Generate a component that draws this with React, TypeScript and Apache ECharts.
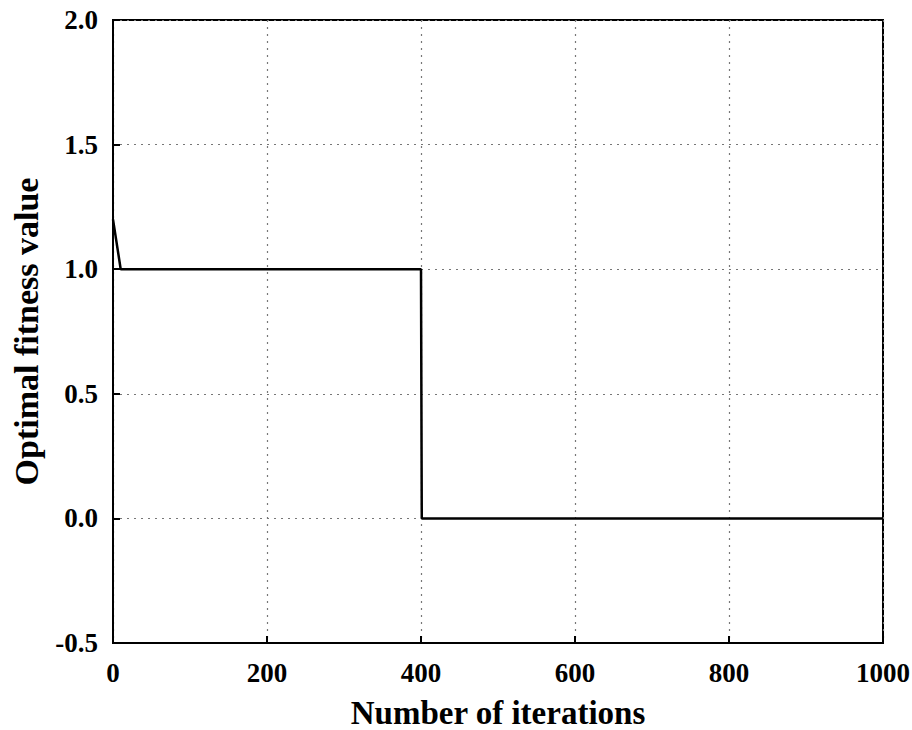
import React, { useEffect, useRef } from "react";
import * as echarts from "echarts";

const iterations = [0, 10, 400, 401, 1000];
const fitness = [1.2, 1.0, 1.0, 0.0, 0.0];
const xName = "Number of iterations";
const yName = "Optimal fitness value";

export default function App() {
  const ref = useRef<HTMLDivElement>(null);
  useEffect(() => {
    const chart = echarts.init(ref.current!, null, { renderer: "svg" });
    const font = "'Liberation Serif', 'Times New Roman', serif";
    chart.setOption({
      animation: false,
      backgroundColor: "#fff",
      grid: {
        left: 113,
        top: 20,
        right: 29,
        bottom: 87,
        show: true,
        borderColor: "#000",
        borderWidth: 2,
        containLabel: false,
        outerBoundsMode: "none",
      },
      xAxis: {
        type: "value",
        min: 0,
        max: 1000,
        interval: 200,
        name: xName,
        nameLocation: "middle",
        nameGap: 54,
        nameTextStyle: { fontFamily: font, fontWeight: "bold", fontSize: 33, lineHeight: 32, color: "#000" },
        axisLine: { show: true, onZero: false, lineStyle: { color: "#000", width: 2 } },
        axisTick: { show: true, inside: true, length: 7, lineStyle: { color: "#000", width: 2 } },
        axisLabel: {
          fontFamily: font,
          fontWeight: "bold",
          fontSize: 27,
          color: "#000",
          margin: 16,
          formatter: (v: number) => String(v),
        },
        splitLine: { show: true, lineStyle: { color: "#777", type: [2, 5], width: 1.2 } },
      },
      yAxis: {
        type: "value",
        min: -0.5,
        max: 2.0,
        interval: 0.5,
        name: yName,
        nameLocation: "middle",
        nameGap: 70,
        nameTextStyle: { fontFamily: font, fontWeight: "bold", fontSize: 34, color: "#000" },
        axisLine: { show: true, onZero: false, lineStyle: { color: "#000", width: 2 } },
        axisTick: { show: true, inside: true, length: 7, lineStyle: { color: "#000", width: 2 } },
        axisLabel: {
          fontFamily: font,
          fontWeight: "bold",
          fontSize: 27,
          color: "#000",
          margin: 15,
          formatter: (v: number) => v.toFixed(1),
        },
        splitLine: { show: true, lineStyle: { color: "#777", type: [2, 5], width: 1.2 } },
      },
      series: [
        {
          type: "line",
          data: iterations.map((x, i) => [x, fitness[i]]),
          showSymbol: false,
          lineStyle: { color: "#000", width: 2.5 },
          z: 5,
        },
      ],
    });
    return () => chart.dispose();
  }, []);
  return <div ref={ref} style={{ width: 912, height: 730, position: "absolute", left: 0, top: 0 }} />;
}
